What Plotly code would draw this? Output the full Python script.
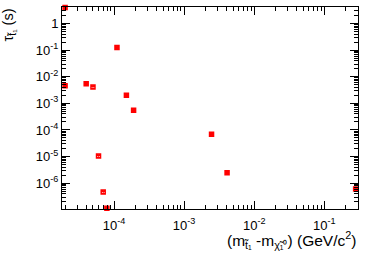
import plotly.graph_objects as go

mass_diff = [2.0e-5, 2.0e-5, 4.0e-5, 5.0e-5, 6.0e-5, 7.0e-5, 7.9e-5, 1.1e-4, 1.5e-4, 1.9e-4, 2.46e-3, 4.1e-3, 0.28]
lifetime = [4.0, 4.6e-3, 5.5e-3, 4.1e-3, 1.05e-5, 4.7e-7, 1.15e-7, 0.126, 2.0e-3, 5.5e-4, 6.9e-5, 2.45e-6, 6.0e-7]

x_tickvals = [1e-4, 1e-3, 1e-2, 1e-1]
x_ticktext = ["10<sup>-4</sup>", "10<sup>-3</sup>", "10<sup>-2</sup>", "10<sup>-1</sup>"]
y_tickvals = [1, 1e-1, 1e-2, 1e-3, 1e-4, 1e-5, 1e-6]
y_ticktext = ["1", "10<sup>-1</sup>", "10<sup>-2</sup>", "10<sup>-3</sup>", "10<sup>-4</sup>", "10<sup>-5</sup>", "10<sup>-6</sup>"]

font_family = "Liberation Sans, Arial, sans-serif"

fig = go.Figure()
fig.add_trace(go.Scatter(
    x=mass_diff, y=lifetime, mode="markers",
    marker=dict(symbol="square-x-open", size=4, color="#ff0000", line=dict(color="#ff0000", width=1.5)),
    cliponaxis=False,
))

axis_common = dict(
    type="log", showgrid=False, zeroline=False, showline=True, linecolor="black", linewidth=1,
    mirror="ticks", ticks="inside", ticklen=8, tickcolor="black", tickwidth=1, automargin=False,
    tickfont=dict(family=font_family, size=13, color="black"),
    minor=dict(ticks="inside", ticklen=4, tickcolor="black", showgrid=False, dtick="D1"),
)

fig.update_xaxes(range=[-4.743, -0.519], tickvals=x_tickvals, ticktext=x_ticktext,
                 ticklabelstandoff=4, **axis_common)
fig.update_yaxes(range=[-6.97, 0.62], tickvals=y_tickvals, ticktext=y_ticktext, **axis_common)

fig.add_annotation(
    text="(m<sub>t̃₁</sub> -m<sub>χ̃₁⁰</sub>) (GeV/c<sup>2</sup>)",
    xref="paper", yref="paper", x=1.0, y=-0.152, xanchor="right", yanchor="middle",
    showarrow=False, font=dict(family=font_family, size=15.5, color="black"),
)
fig.add_annotation(
    text="τ<sub>t̃₁</sub> (s)",
    xref="paper", yref="paper", x=-0.176, y=1.005, xanchor="center", yanchor="top",
    textangle=-90, showarrow=False, font=dict(family=font_family, size=14.5, color="black"),
)

fig.update_layout(
    width=374, height=256,
    margin=dict(l=62, r=16, t=7, b=47),
    paper_bgcolor="white", plot_bgcolor="white",
    showlegend=False,
)

fig.write_html("out.html", config={"displayModeBar": False},
               post_script="document.body.style.margin='0';")
